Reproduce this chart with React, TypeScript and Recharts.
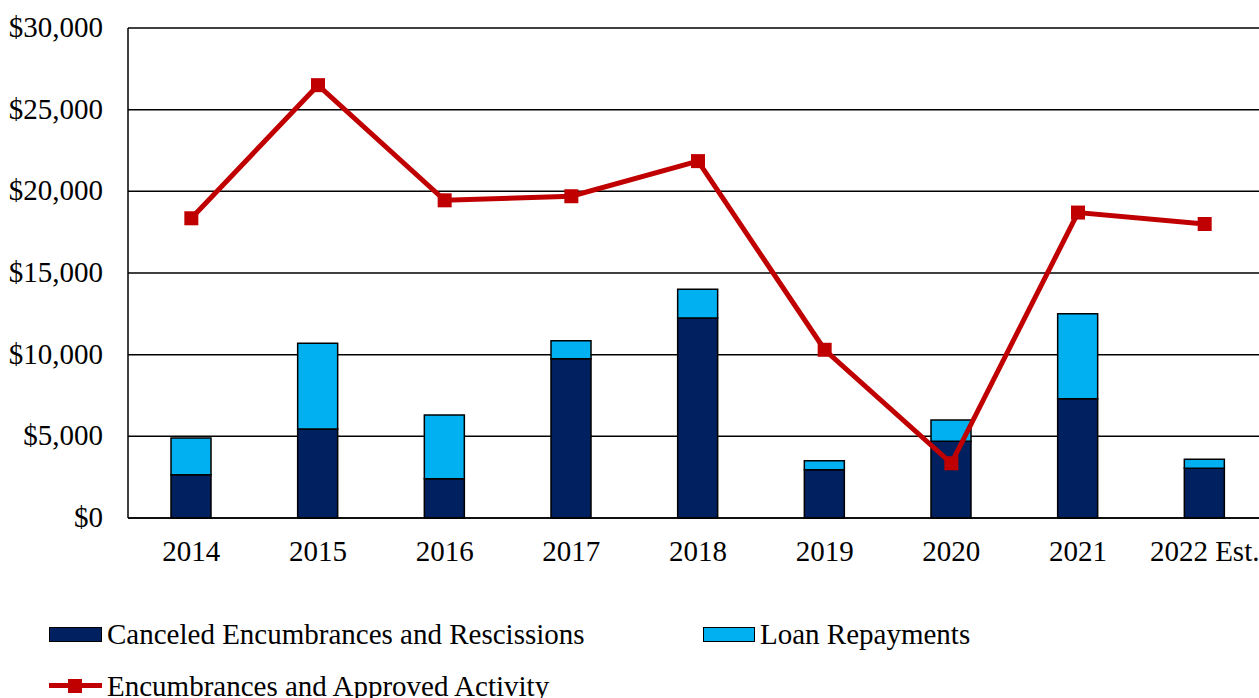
import React from 'react';
import { ComposedChart, Bar, Line, XAxis, YAxis, CartesianGrid } from 'recharts';

const categories = ['2014', '2015', '2016', '2017', '2018', '2019', '2020', '2021', '2022 Est.'];
const canceled = [2650, 5450, 2400, 9750, 12250, 2950, 4700, 7300, 3050];
const loanRepayments = [2250, 5250, 3900, 1100, 1750, 550, 1300, 5200, 550];
const approvedActivity = [18350, 26500, 19450, 19700, 21850, 10300, 3350, 18700, 18000];
const yTicks = [0, 5000, 10000, 15000, 20000, 25000, 30000];

const data = categories.map((c, i) => ({
  name: c,
  canceled: canceled[i],
  loan: loanRepayments[i],
  activity: approvedActivity[i],
}));

const FONT = '"Liberation Serif", "Times New Roman", serif';
const DARK = '#002060';
const LIGHT = '#00B0F0';
const RED = '#C00000';

const fmt = (v: number) => '$' + v.toLocaleString('en-US');

const SquareDot = (props: any) => {
  const { cx, cy } = props;
  if (cx == null || cy == null) return null;
  return <rect x={cx - 7} y={cy - 7} width={14} height={14} fill={RED} />;
};

const YTick = (props: any) => {
  const { y, payload } = props;
  return (
    <text x={103} y={y} dy={9} textAnchor="end" fontFamily={FONT} fontSize={29} fill="#000">
      {fmt(payload.value)}
    </text>
  );
};

const XTick = (props: any) => {
  const { x, y, payload } = props;
  return (
    <text x={x} y={y} dy={35} textAnchor="middle" fontFamily={FONT} fontSize={29} fill="#000">
      {payload.value}
    </text>
  );
};

export default function App() {
  return (
    <div style={{ position: 'absolute', left: 0, top: 0, width: 1259, height: 698, background: '#fff', overflow: 'hidden' }}>
      <ComposedChart
        width={1268}
        height={698}
        data={data}
        margin={{ top: 28, right: 0, bottom: 120, left: 0 }}
        barSize={40}
      >
        <CartesianGrid vertical={false} stroke="#000" strokeWidth={1.5} />
        <XAxis
          dataKey="name"
          height={60}
          tick={<XTick />}
          tickLine={false}
          axisLine={{ stroke: '#000', strokeWidth: 1.5 }}
          interval={0}
        />
        <YAxis
          width={128}
          domain={[0, 30000]}
          ticks={yTicks}
          tick={<YTick />}
          tickLine={false}
          axisLine={{ stroke: '#000', strokeWidth: 1.5 }}
          interval={0}
        />
        <Bar dataKey="canceled" stackId="a" fill={DARK} stroke="#000" strokeWidth={1.5} isAnimationActive={false} />
        <Bar dataKey="loan" stackId="a" fill={LIGHT} stroke="#000" strokeWidth={1.5} isAnimationActive={false} />
        <Line
          dataKey="activity"
          stroke={RED}
          strokeWidth={5}
          dot={<SquareDot />}
          activeDot={false}
          isAnimationActive={false}
        />
      </ComposedChart>
      <div style={{ position: 'absolute', left: 0, top: 0, fontFamily: FONT, fontSize: 29, color: '#000' }}>
        <div style={{ position: 'absolute', left: 49, top: 627, width: 51, height: 13, background: DARK, border: '1.5px solid #000' }} />
        <div style={{ position: 'absolute', left: 107, top: 616, whiteSpace: 'nowrap', lineHeight: '36px' }}>Canceled Encumbrances and Rescissions</div>
        <div style={{ position: 'absolute', left: 703, top: 627, width: 50, height: 13, background: LIGHT, border: '1.5px solid #000' }} />
        <div style={{ position: 'absolute', left: 760, top: 616, whiteSpace: 'nowrap', lineHeight: '36px' }}>Loan Repayments</div>
        <div style={{ position: 'absolute', left: 49, top: 683, width: 53, height: 5, background: RED }} />
        <div style={{ position: 'absolute', left: 68, top: 679, width: 14, height: 14, background: RED }} />
        <div style={{ position: 'absolute', left: 107, top: 668, whiteSpace: 'nowrap', lineHeight: '36px' }}>Encumbrances and Approved Activity</div>
      </div>
    </div>
  );
}
